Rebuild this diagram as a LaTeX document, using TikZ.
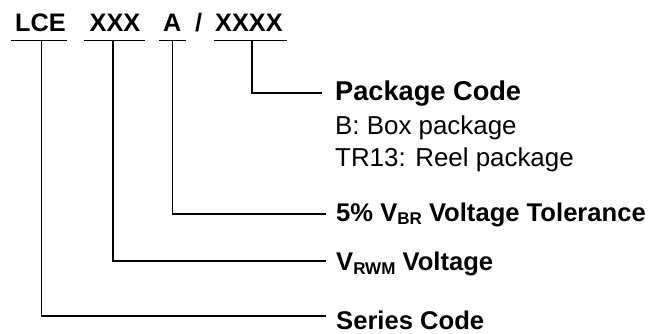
\documentclass[tikz,border=0pt]{standalone}
\usepackage{fontspec}
\setmainfont{Liberation Sans}
\begin{document}
\begin{tikzpicture}[x=1pt,y=-1pt,
  ln/.style={line width=1.5pt,black},
  code/.style={inner sep=0pt,anchor=base west,font=\fontsize{25.3}{25.3}\selectfont\bfseries},
  lbl/.style={inner sep=0pt,anchor=base west,font=\fontsize{25.6}{25.6}\selectfont\bfseries},
  sub/.style={inner sep=0pt,anchor=base west,font=\fontsize{25.9}{25.9}\selectfont}]
\useasboundingbox (0,0) rectangle (655,334);
% code letters
\node[code] (lce) at (15,32) {LCE};
\node[code] (xxx) at (89.5,32) {XXX};
\node[code] (a) at (163,32) {A};
\node[code] (sl) at (195,32) {/};
\node[code] (xxxx) at (215,32) {XXXX};
% underlines
\draw[ln] (11,40.5) -- (67,40.5);
\draw[ln] (84,40.5) -- (145,40.5);
\draw[ln] (159,40.5) -- (186,40.5);
\draw[ln] (214,40.5) -- (287,40.5);
\coordinate (t1) at (41.5,40.5);
\coordinate (t2) at (113,40.5);
\coordinate (t3) at (172.5,40.5);
\coordinate (t4) at (252,40.5);
% labels
\node[lbl,font=\fontsize{27.2}{27.2}\selectfont\bfseries] (pkg) at (335,101) {Package Code};
\node[sub] (box) at (335,135) {B: Box package};
\node[sub] (reel) at (335,166) {TR13: Reel package};
\node[lbl] (tol) at (336,221) {5\% V{\fontsize{17}{17}\selectfont\raisebox{-3pt}{BR}} Voltage Tolerance};
\node[lbl] (vrwm) at (336,270) {V{\fontsize{17}{17}\selectfont\raisebox{-4pt}{RWM}} Voltage};
\node[lbl] (ser) at (336,329) {Series Code};
% connector ends
\coordinate (e1) at (326,316);
\coordinate (e2) at (326,261);
\coordinate (e3) at (326,214);
\coordinate (e4) at (322,93);
\draw[ln] (t1) |- (e1);
\draw[ln] (t2) |- (e2);
\draw[ln] (t3) |- (e3);
\draw[ln] (t4) |- (e4);
\end{tikzpicture}
\end{document}
